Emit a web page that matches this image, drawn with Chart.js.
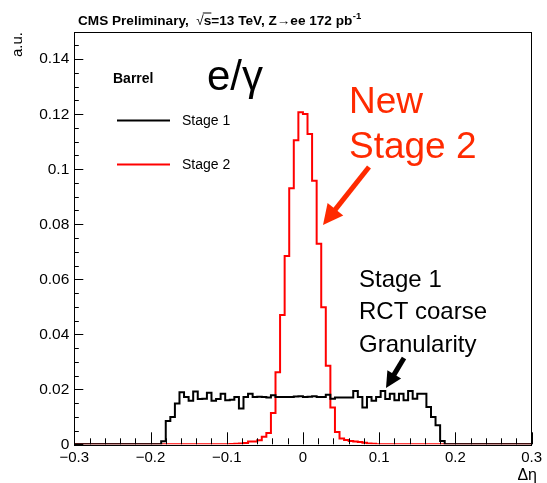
<!DOCTYPE html>
<html>
<head>
<meta charset="utf-8">
<script src="https://cdn.jsdelivr.net/npm/chart.js@4/dist/chart.umd.min.js"></script>
<style>
  html, body { margin: 0; padding: 0; background: #fff; }
  #wrap { width: 547px; height: 483px; }
</style>
</head>
<body>
<div id="wrap"><canvas id="c" width="547" height="483"></canvas></div>
<script>
// ---- Histogram binning (100 bins from -0.3 to 0.3) ----
const binLow = -0.3;
const binWidth = 0.006;
const nBins = 100;

// ---- Series values per bin (a.u.) ----
const stage1 = [
  0,0,0,0,0,0,0,0,0,0,
  0,0,0,0,0,0,0,0,0,0.0011,
  0.0085,0.0099,0.0148,0.0189,0.0172,0.0158,0.0192,0.0165,0.0166,0.0187,
  0.0158,0.0165,0.0184,0.0160,0.0162,0.0172,0.0130,0.0172,0.0184,0.0172,
  0.0173,0.0172,0.0170,0.0178,0.0172,0.0172,0.0172,0.0172,0.0174,0.0175,
  0.0172,0.0173,0.0175,0.0172,0.0172,0.0180,0.0166,0.0170,0.0170,0.0170,
  0.0170,0.0194,0.0172,0.0134,0.0172,0.0158,0.0172,0.0194,0.0165,0.0184,
  0.0160,0.0184,0.0160,0.0194,0.0166,0.0184,0.0184,0.0136,0.0099,0.0069,
  0.0012,0,0,0,0,0,0,0,0,0,
  0,0,0,0,0,0,0,0,0,0
];
const stage2 = [
  0,0,0,0,0,0,0,0,0,0,
  0,0,0,0,0,0,0,0,0,0,
  0,0,0,0,0,0,0,0,0,0,
  0,0,0,0,0.0001,0.0002,0.0003,0.0005,0.0010,0.0010,
  0.0015,0.0027,0.0041,0.0114,0.0262,0.0470,0.0685,0.0931,0.1105,0.1207,
  0.1201,0.1128,0.0958,0.0729,0.0498,0.0286,0.0134,0.0045,0.0021,0.0016,
  0.0012,0.0010,0.0008,0.0006,0.0003,0.0002,0,0,0,0,
  0,0,0,0,0,0,0,0,0,0,
  0,0,0,0,0,0,0,0,0,0,
  0,0,0,0,0,0,0,0,0,0
];

// ---- Axis ticks ----
const xTickLabels = [-0.3, -0.2, -0.1, 0, 0.1, 0.2, 0.3];
const yTickLabels = [0, 0.02, 0.04, 0.06, 0.08, 0.1, 0.12, 0.14];
const xMin = -0.3, xMax = 0.3, yMin = 0, yMax = 0.15;
const xMinorStep = 0.02, yMinorStep = 0.005;

function histPoints(vals) {
  const pts = vals.map((v, k) => ({ x: binLow + k * binWidth, y: v }));
  pts.push({ x: binLow + nBins * binWidth, y: vals[vals.length - 1] });
  return pts;
}

const FONT = '"Liberation Sans", Arial, Helvetica, sans-serif';
const RED = '#ff0000';
const ANNO_RED = '#ff2a00';

function fmtX(v) {
  const r = Math.round(v * 10) / 10;
  if (Math.abs(r) < 1e-9) return '0';
  return (r < 0 ? '\u2212' : '') + Math.abs(r).toFixed(1);
}
function fmtY(v) {
  const r = Math.round(v * 1000) / 1000;
  return String(r);
}

function arrow(ctx, x0, y0, x1, y1, color, w, headLen, headHalf) {
  const a = Math.atan2(y1 - y0, x1 - x0);
  const bx = x1 - headLen * Math.cos(a), by = y1 - headLen * Math.sin(a);
  ctx.save();
  ctx.strokeStyle = color; ctx.fillStyle = color;
  ctx.lineWidth = w; ctx.lineCap = 'butt';
  ctx.beginPath(); ctx.moveTo(x0, y0); ctx.lineTo(bx + Math.cos(a), by + Math.sin(a)); ctx.stroke();
  ctx.beginPath();
  ctx.moveTo(x1, y1);
  ctx.lineTo(bx + headHalf * Math.sin(a), by - headHalf * Math.cos(a));
  ctx.lineTo(bx - headHalf * Math.sin(a), by + headHalf * Math.cos(a));
  ctx.closePath(); ctx.fill();
  ctx.restore();
}

const decor = {
  id: 'decor',
  beforeDraw(chart) {
    const ctx = chart.ctx;
    ctx.save();
    ctx.fillStyle = '#fff';
    ctx.fillRect(0, 0, chart.width, chart.height);
    ctx.restore();
  },
  afterDatasetsDraw(chart) {
    const ctx = chart.ctx;
    const a = chart.chartArea;
    const xs = chart.scales.x, ys = chart.scales.y;
    ctx.save();
    // frame
    ctx.strokeStyle = '#000'; ctx.lineWidth = 1;
    ctx.strokeRect(Math.round(a.left) + 0.5, Math.round(a.top) + 0.5,
                   Math.round(a.right - a.left), Math.round(a.bottom - a.top));
    // x ticks (inward)
    ctx.beginPath();
    const nx = Math.round((xMax - xMin) / xMinorStep);
    for (let i = 0; i <= nx; i++) {
      const v = xMin + i * xMinorStep;
      const major = i % 5 === 0;
      const px = Math.round(xs.getPixelForValue(v)) + 0.5;
      ctx.moveTo(px, a.bottom);
      ctx.lineTo(px, a.bottom - (major ? 12 : 6));
    }
    // y ticks (inward)
    const ny = Math.round((yMax - yMin) / yMinorStep);
    for (let i = 0; i <= ny; i++) {
      const v = yMin + i * yMinorStep;
      const major = i % 4 === 0;
      const py = Math.round(ys.getPixelForValue(v)) + 0.5;
      ctx.moveTo(a.left, py);
      ctx.lineTo(a.left + (major ? 9 : 4.5), py);
    }
    ctx.stroke();

    // title
    ctx.fillStyle = '#000';
    ctx.textBaseline = 'alphabetic';
    ctx.textAlign = 'left';
    const TF = 13.6;
    ctx.font = 'bold ' + TF + 'px ' + FONT;
    let x = 78; const by = 25;
    const t1 = 'CMS Preliminary,  ';
    ctx.fillText(t1, x, by); x += ctx.measureText(t1).width;
    ctx.font = TF + 'px ' + FONT;
    ctx.fillText('\u221A', x, by); const sqw = ctx.measureText('\u221A').width; x += sqw;
    ctx.font = 'bold ' + TF + 'px ' + FONT;
    const sw = ctx.measureText('s').width;
    ctx.fillText('s', x, by);
    ctx.lineWidth = 1;
    ctx.beginPath(); ctx.moveTo(x - 1, by - 12); ctx.lineTo(x + sw, by - 12); ctx.stroke();
    x += sw;
    const t2 = '=13 TeV, Z\u2192ee 172 pb';
    ctx.fillText(t2, x, by); x += ctx.measureText(t2).width;
    ctx.font = 'bold 9.5px ' + FONT;
    ctx.fillText('-1', x + 0.5, by - 6.5);

    // y title
    ctx.save();
    ctx.font = '15px ' + FONT;
    ctx.translate(22, 32);
    ctx.rotate(-Math.PI / 2);
    ctx.textAlign = 'right';
    ctx.textBaseline = 'alphabetic';
    ctx.fillText('a.u.', 0, 0);
    ctx.restore();

    // x title
    ctx.font = '16px ' + FONT;
    ctx.textAlign = 'right';
    ctx.fillText('\u0394\u03B7', 537, 480);

    // Barrel + e/gamma
    ctx.textAlign = 'left';
    ctx.font = 'bold 14px ' + FONT;
    ctx.fillText('Barrel', 113, 83);
    ctx.font = '42px ' + FONT;
    ctx.fillText('e/\u03B3', 207, 90);

    // legend
    ctx.lineWidth = 2;
    ctx.strokeStyle = '#000';
    ctx.beginPath(); ctx.moveTo(117, 120.5); ctx.lineTo(170, 120.5); ctx.stroke();
    ctx.strokeStyle = RED;
    ctx.beginPath(); ctx.moveTo(117, 164.5); ctx.lineTo(170, 164.5); ctx.stroke();
    ctx.font = '14px ' + FONT;
    ctx.fillStyle = '#000';
    ctx.textBaseline = 'middle';
    ctx.fillText('Stage 1', 182, 121);
    ctx.fillText('Stage 2', 182, 165);
    ctx.textBaseline = 'alphabetic';

    // annotations
    ctx.fillStyle = ANNO_RED;
    ctx.font = '37px ' + FONT;
    ctx.fillText('New', 349, 113);
    ctx.fillText('Stage 2', 349, 158);
    arrow(ctx, 369, 167, 323, 225, ANNO_RED, 5, 20, 10);

    ctx.fillStyle = '#000';
    ctx.font = '24px ' + FONT;
    ctx.fillText('Stage 1', 359, 287);
    ctx.fillText('RCT coarse', 359, 319);
    ctx.fillText('Granularity', 359, 352);
    arrow(ctx, 404, 358, 386, 388, '#000', 5, 16, 8);

    ctx.restore();
  }
};

const chart = new Chart(document.getElementById('c'), {
  type: 'line',
  data: {
    datasets: [
      { label: 'Stage 1', data: histPoints(stage1), borderColor: '#000', borderWidth: 2,
        stepped: true, pointRadius: 0, fill: false, tension: 0 },
      { label: 'Stage 2', data: histPoints(stage2), borderColor: RED, borderWidth: 2,
        stepped: true, pointRadius: 0, fill: false, tension: 0 }
    ]
  },
  options: {
    responsive: false,
    devicePixelRatio: 1,
    animation: false,
    parsing: false,
    layout: { padding: { left: 0, right: 10.3, top: 31.7, bottom: 0 } },
    plugins: { legend: { display: false }, tooltip: { enabled: false }, title: { display: false } },
    scales: {
      x: {
        type: 'linear', min: xMin, max: xMax,
        grid: { display: false, drawTicks: false },
        border: { display: false },
        afterBuildTicks(s) { s.ticks = xTickLabels.map(v => ({ value: v })); },
        afterFit(s) { s.height = 483 - 444.3; },
        ticks: { color: '#000', font: { family: FONT, size: 15 }, padding: 5,
                 maxRotation: 0, autoSkip: false, callback: v => fmtX(v) }
      },
      y: {
        type: 'linear', min: yMin, max: yMax,
        grid: { display: false, drawTicks: false },
        border: { display: false },
        afterBuildTicks(s) { s.ticks = yTickLabels.map(v => ({ value: v })); },
        afterFit(s) { s.width = 74.3; },
        ticks: { color: '#000', font: { family: FONT, size: 15.5 }, padding: 5,
                 autoSkip: false, callback: v => fmtY(v) }
      }
    }
  },
  plugins: [decor]
});
</script>
</body>
</html>
